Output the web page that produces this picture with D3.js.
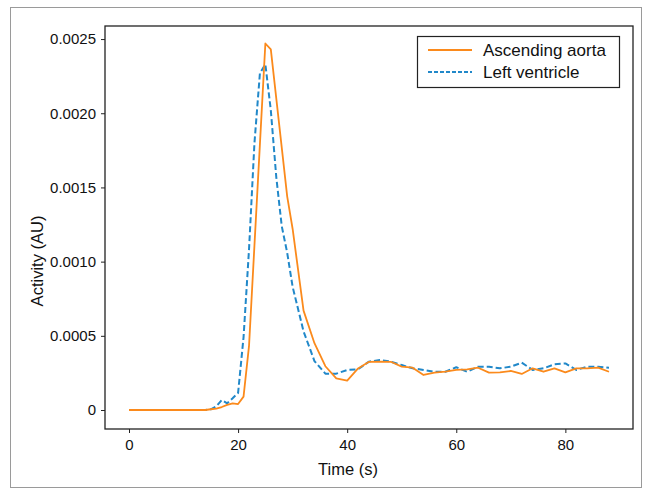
<!DOCTYPE html>
<html>
<head>
<meta charset="utf-8">
<script src="https://cdn.jsdelivr.net/npm/d3@7"></script>
<style>
  body { margin: 0; background: #fff; }
  svg text { font-family: "Liberation Sans", Arial, sans-serif; fill: #111; }
</style>
</head>
<body>
<div id="chart"></div>
<script>
// sample times (s)
var times = [0, 2, 4, 6, 8, 10, 12, 14, 15, 16, 17, 18, 19, 20, 21, 22, 23, 24, 25, 26, 27, 28, 29, 30,
  32, 34, 36, 38, 40, 42, 44, 46, 48, 50, 52, 54, 56, 58, 60, 62, 64, 66, 68, 70, 72, 74, 76, 78, 80, 82, 84, 86, 88];

// activity, in units of 1e-4 AU
var aorta = [0, 0, 0, 0, 0, 0, 0, 0, 0.05, 0.1, 0.2, 0.35, 0.45, 0.4, 0.9, 4.3, 11.1, 17.9, 24.7, 24.3, 21.0, 17.7, 14.4, 12.2,
  6.7, 4.5, 2.95, 2.13, 1.98, 2.8, 3.25, 3.26, 3.25, 2.92, 2.85, 2.36, 2.52, 2.58, 2.7, 2.74, 2.85, 2.52, 2.54, 2.63, 2.43, 2.81, 2.58, 2.81, 2.54, 2.81, 2.81, 2.85, 2.58];

var ventricle = [0, 0, 0, 0, 0, 0, 0, 0, 0.05, 0.25, 0.67, 0.45, 0.79, 1.15, 4.9, 10.8, 18.0, 22.7, 23.3, 20.2, 15.7, 12.4, 10.6, 8.3,
  5.3, 3.3, 2.45, 2.45, 2.7, 2.75, 3.26, 3.37, 3.26, 3.03, 2.81, 2.7, 2.58, 2.58, 2.88, 2.58, 2.92, 2.92, 2.81, 2.92, 3.19, 2.7, 2.81, 3.08, 3.14, 2.7, 2.92, 2.92, 2.85];

var xTicks = [0, 20, 40, 60, 80];
var yTicks = [0, 0.0005, 0.0010, 0.0015, 0.0020, 0.0025];
var yTickLabels = ["0", "0.0005", "0.0010", "0.0015", "0.0020", "0.0025"];
var seriesNames = ["Ascending aorta", "Left ventricle"];

var W = 651, H = 490;
var plotL = 105, plotR = 633, plotT = 26, plotB = 429;

var svg = d3.select("#chart").append("svg").attr("width", W).attr("height", H);

// outer frame
svg.append("rect").attr("x", 10.5).attr("y", 7.5).attr("width", 631).attr("height", 480)
  .attr("fill", "none").attr("stroke", "#9a9a9a").attr("stroke-width", 1);

var x = d3.scaleLinear().domain([-4.4, 92.4]).range([plotL, plotR]);
var y = d3.scaleLinear().domain([-0.000128, 0.002588]).range([plotB, plotT]);

var xAxis = svg.append("g").attr("transform", "translate(0," + plotB + ")")
  .call(d3.axisBottom(x).tickValues(xTicks).tickSize(4).tickPadding(6).tickFormat(d3.format("d")));
var yAxis = svg.append("g").attr("transform", "translate(" + plotL + ",0)")
  .call(d3.axisLeft(y).tickValues(yTicks).tickSize(4).tickPadding(5).tickFormat(function (d, i) { return yTickLabels[i]; }));

[xAxis, yAxis].forEach(function (g) {
  g.select(".domain").remove();
  g.selectAll("line").attr("stroke", "#222");
  g.selectAll("text").attr("font-size", 15).attr("fill", "#111")
    .attr("font-family", "'Liberation Sans', Arial, sans-serif");
});

var pts = function (arr) { return times.map(function (t, i) { return [t, arr[i] * 1e-4]; }); };
var line = d3.line().x(function (d) { return x(d[0]); }).y(function (d) { return y(d[1]); });

svg.append("path").datum(pts(ventricle)).attr("d", line)
  .attr("fill", "none").attr("stroke", "#2188c9").attr("stroke-width", 2)
  .attr("stroke-dasharray", "6,3").attr("stroke-linejoin", "round");
svg.append("path").datum(pts(aorta)).attr("d", line)
  .attr("fill", "none").attr("stroke", "#fb8a1c").attr("stroke-width", 1.8)
  .attr("stroke-linejoin", "round");

// axes frame
svg.append("rect").attr("x", plotL).attr("y", plotT).attr("width", plotR - plotL).attr("height", plotB - plotT)
  .attr("fill", "none").attr("stroke", "#222").attr("stroke-width", 1.3);

// labels
svg.append("text").attr("x", 348).attr("y", 475).attr("text-anchor", "middle")
  .attr("font-size", 16.5).text("Time (s)");
svg.append("text").attr("transform", "translate(43,261) rotate(-90)")
  .attr("text-anchor", "middle").attr("font-size", 16.5).text("Activity (AU)");

// legend
var lg = svg.append("g");
lg.append("rect").attr("x", 417.5).attr("y", 36.5).attr("width", 202).attr("height", 51)
  .attr("fill", "#fff").attr("stroke", "#222").attr("stroke-width", 1.2);
var legendColors = ["#fb8a1c", "#2188c9"];
seriesNames.forEach(function (name, i) {
  var ly = 50 + i * 22;
  lg.append("line").attr("x1", 428).attr("x2", 472).attr("y1", ly).attr("y2", ly)
    .attr("stroke", legendColors[i]).attr("stroke-width", i ? 2 : 1.8)
    .attr("stroke-dasharray", i ? "4,2" : null);
  lg.append("text").attr("x", 483).attr("y", ly + 6).attr("font-size", 17).text(name);
});
</script>
</body>
</html>
